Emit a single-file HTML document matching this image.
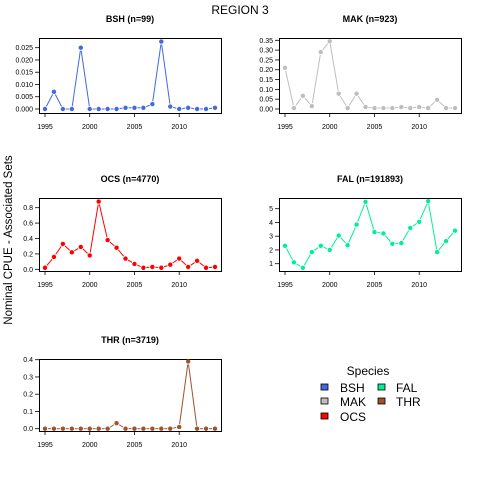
<!DOCTYPE html>
<html><head><meta charset="utf-8"><style>
body{margin:0;background:#fff}
svg{display:block;font-family:"Liberation Sans",Arial,sans-serif}
</style></head><body>
<svg id="c" width="480" height="480" viewBox="0 0 480 480">
<text x="240" y="14" font-size="12" text-anchor="middle">REGION 3</text>
<text transform="translate(12,240) rotate(-90)" font-size="11.5" text-anchor="middle">Nominal CPUE - Associated Sets</text>
<g>
<text x="368" y="375" font-size="12" text-anchor="middle">Species</text>
<g><rect x="321" y="384" width="7" height="6" fill="#4169E1" stroke="#000" stroke-width="0.8"/><text x="340" y="392" font-size="12">BSH</text></g>
<g><rect x="321" y="398" width="7" height="6" fill="#BEBEBE" stroke="#000" stroke-width="0.8"/><text x="340" y="406" font-size="12">MAK</text></g>
<g><rect x="321" y="413" width="7" height="6" fill="#FF0000" stroke="#000" stroke-width="0.8"/><text x="340" y="421" font-size="12">OCS</text></g>
<g><rect x="378" y="384" width="7" height="6" fill="#00EE99" stroke="#000" stroke-width="0.8"/><text x="396" y="392" font-size="12">FAL</text></g>
<g><rect x="378" y="398" width="7" height="6" fill="#A0522D" stroke="#000" stroke-width="0.8"/><text x="396" y="406" font-size="12">THR</text></g>
</g>
</svg>
<script>
const years=[1995,1996,1997,1998,1999,2000,2001,2002,2003,2004,2005,2006,2007,2008,2009,2010,2011,2012,2013,2014];
const xTicks=[1995,2000,2005,2010];
const bshValues=[0,0.007,0,0,0.025,0,0,0,0,0.0005,0.0005,0.0005,0.002,0.0275,0.001,0,0.0005,0,0,0.0005];
const makValues=[0.21,0.005,0.067,0.015,0.29,0.345,0.078,0.005,0.078,0.01,0.005,0.005,0.005,0.01,0.005,0.01,0.005,0.047,0.005,0.005];
const ocsValues=[0.02,0.16,0.33,0.22,0.29,0.18,0.88,0.38,0.28,0.14,0.07,0.02,0.03,0.02,0.06,0.14,0.03,0.11,0.02,0.03];
const falValues=[2.3,1.1,0.7,1.85,2.3,2.0,3.05,2.35,3.85,5.5,3.3,3.2,2.45,2.5,3.6,4.05,5.55,1.85,2.65,3.4];
const thrValues=[0,0,0,0,0,0,0,0,0.032,0,0,0,0,0,0,0.01,0.39,0,0,0];
const bshTicks=["0.000","0.005","0.010","0.015","0.020","0.025"];
const makTicks=["0.00","0.05","0.10","0.15","0.20","0.25","0.30","0.35"];
const ocsTicks=["0.0","0.2","0.4","0.6","0.8"];
const falTicks=["1","2","3","4","5"];
const thrTicks=["0.0","0.1","0.2","0.3","0.4"];
const NS="http://www.w3.org/2000/svg";
const svg=document.getElementById('c');
function mk(tag,attrs,parent){const e=document.createElementNS(NS,tag);for(const k in attrs)e.setAttribute(k,attrs[k]);parent.appendChild(e);return e;}
function panel(name,title,vals,ticks,color,L,R,T,B,y0px,y0v,y1px,y1v,xl){
  const g=mk('g',{},svg);
  
  
  const xs=v=>xl+(v-1995)*((R-6-xl)/19);
  const ys=v=>y0px+(v-y0v)*(y1px-y0px)/(y1v-y0v);
  const t=mk('text',{x:(L+R)/2,y:T-16,'font-size':9,'font-weight':'bold','text-anchor':'middle'},g);
  t.textContent=title;
  
  
  const box=mk('rect',{x:L+0.5,y:T+0.5,width:R-L,height:B-T,fill:'none',stroke:'#000','stroke-width':1},g);
  
  
  ticks.forEach(s=>{const v=parseFloat(s);const y=ys(v);
    mk('line',{x1:L-4,x2:L,y1:y,y2:y,stroke:'#000','stroke-width':0.8},g);
    const tx=mk('text',{x:L-6,y:y+2.5,'font-size':7,'text-anchor':'end'},g);tx.textContent=s;
    
    });
  xTicks.forEach(v=>{const x=xs(v);
    mk('line',{x1:x,x2:x,y1:B,y2:B+4,stroke:'#000','stroke-width':0.8},g);
    const tx=mk('text',{x:x,y:B+16,'font-size':7,'text-anchor':'middle'},g);tx.textContent=v;
    
    });
  for(let i=0;i<vals.length-1;i++){
    const x1=xs(years[i]),y1=ys(vals[i]),x2=xs(years[i+1]),y2=ys(vals[i+1]);
    const d=Math.hypot(x2-x1,y2-y1);const gap=3;
    if(d<=2*gap)continue;
    const ux=(x2-x1)/d,uy=(y2-y1)/d;
    const s=mk('line',{x1:x1+ux*gap,y1:y1+uy*gap,x2:x2-ux*gap,y2:y2-uy*gap,stroke:color,'stroke-width':1},g);
    
    
  }
  vals.forEach((v,i)=>{const c=mk('circle',{cx:xs(years[i]),cy:ys(v),r:2.2,fill:color},g);
    
    });
}
panel('bsh','BSH (n=99)',bshValues,bshTicks,'#4169E1',39,221,38,113,109,0,47.7,0.025,45);
panel('mak','MAK (n=923)',makValues,makTicks,'#BEBEBE',279,461,38,113,109,0,40.3,0.35,285);
panel('ocs','OCS (n=4770)',ocsValues,ocsTicks,'#FF0000',39,221,198,271,269.3,0,207.7,0.8,45);
panel('fal','FAL (n=191893)',falValues,falTicks,'#00EE99',279,461,198,271,263.7,1,208.7,5,285);
panel('thr','THR (n=3719)',thrValues,thrTicks,'#A0522D',39,221,359,431,428.7,0,359.7,0.4,45);
</script>
</body></html>
